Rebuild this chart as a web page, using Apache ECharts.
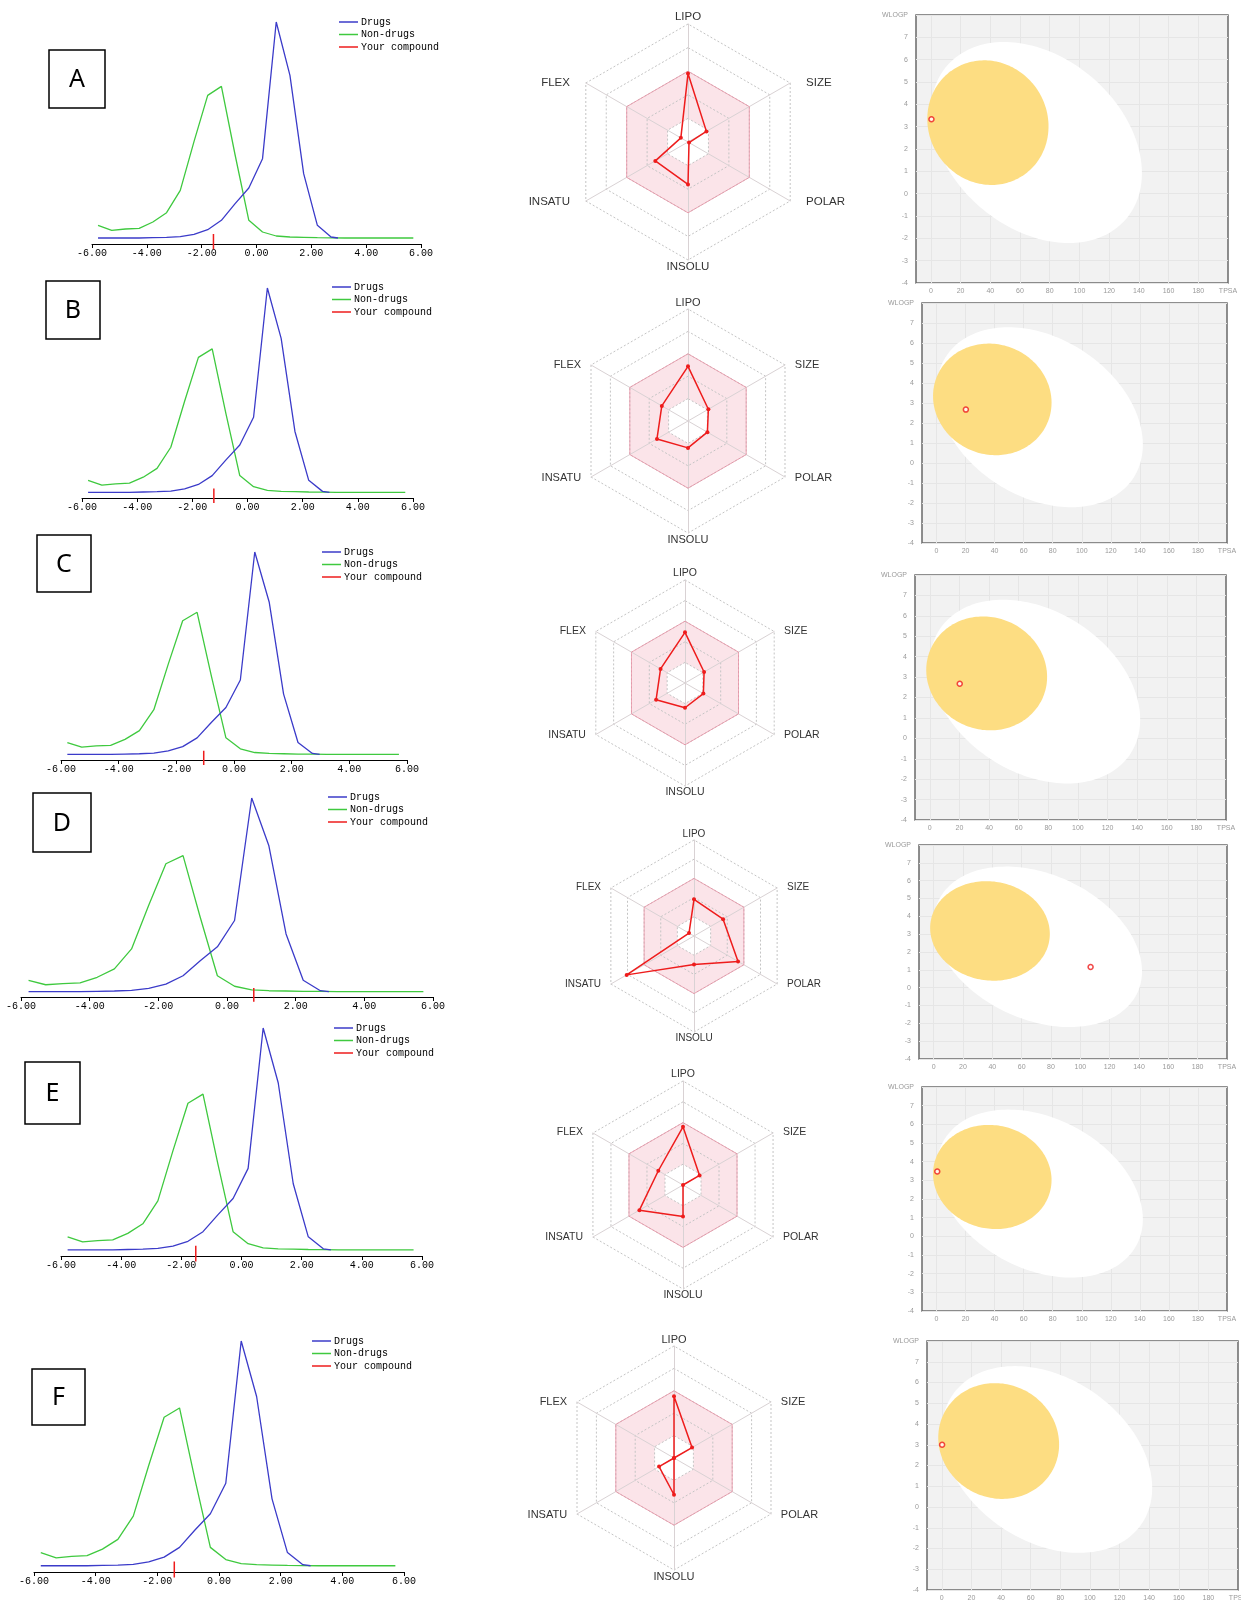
<!DOCTYPE html>
<html>
<head>
<meta charset="utf-8">
<script src="https://cdn.jsdelivr.net/npm/echarts@6/dist/echarts.min.js"></script>
<style>
  html, body { margin: 0; padding: 0; background: #ffffff; }
  #chart { width: 1241px; height: 1600px; }
</style>
</head>
<body>
<div id="chart"></div>
<script>
// ---- Drug-likeness model score distributions (reference sets, same in every panel) ----
const drugBins    = [-5.78, -5.28, -4.78, -4.28, -3.78, -3.28, -2.78, -2.28, -1.78, -1.28, -0.78, -0.28, 0.22, 0.72, 1.22, 1.72, 2.22, 2.72, 2.97];
const drugFreq    = [0, 0, 0, 0, 0.05, 0.1, 0.2, 0.55, 1.25, 2.65, 5.15, 7.5, 11.9, 32.4, 24.4, 9.65, 1.9, 0.15, 0];
const nonDrugBins = [-5.78, -5.28, -4.78, -4.28, -3.78, -3.28, -2.78, -2.28, -1.78, -1.28, -0.78, -0.28, 0.22, 0.72, 1.22, 1.72, 2.22, 2.72, 3.22, 3.72, 4.22, 4.72, 5.22, 5.72];
const nonDrugFreq = [1.9, 1.15, 1.35, 1.45, 2.4, 3.8, 7.15, 14.45, 21.4, 22.75, 12.45, 2.65, 0.9, 0.3, 0.15, 0.1, 0.05, 0.03, 0, 0, 0, 0, 0, 0];

// ---- Compounds ----
const panelLetters   = ['A', 'B', 'C', 'D', 'E', 'F'];
const compoundScores = [-1.57, -1.22, -1.05, 0.78, -1.52, -1.45];

// Bioavailability radar, values in axis order below
const radarAxes = ['LIPO', 'SIZE', 'POLAR', 'INSOLU', 'INSATU', 'FLEX'];
const radarA = [2.90, 0.90, 0.05, 1.80, 1.60, 0.35];
const radarB = [2.44, 1.05, 1.00, 1.20, 1.60, 1.35];
const radarC = [2.46, 1.07, 1.03, 1.20, 1.62, 1.37];
const radarD = [1.91, 1.75, 2.65, 1.48, 4.05, 0.30];
const radarE = [2.80, 0.92, 0.00, 1.52, 2.42, 1.37];
const radarF = [2.76, 0.93, 0.00, 1.64, 0.77, 0.00];
const radarValues = [radarA, radarB, radarC, radarD, radarE, radarF];
const radarOptimal = [3, 3, 3, 3, 3, 3];

// BOILED-Egg: TPSA / WLOGP of each compound
const tpsaValues  = [0.4, 20.2, 20.2, 107.0, 0.5, 0.2];
const wlogpValues = [3.33, 2.67, 2.67, 1.16, 3.47, 3.00];
const tpsaTicks   = [0, 20, 40, 60, 80, 100, 120, 140, 160, 180];
// egg regions: x = cx + a*cos(t), y = cy + b*sin(t + phi)
const eggWhite = { cx: 71.05, cy: 2.29, a: 71.0, b: 4.5, phi: -0.31 };
const eggYolk  = { cx: 38.4, cy: 3.18, a: 40.8, b: 2.79, phi: -0.06 };

// ---- Page layout (pixels) ----
// radar: [cx, cy, radius, label font size, label side padding]
const layout = [
  { box: [49, 50, 56, 58],   dist: [92, 22, 329, 222],   legend: [339, 16],   radar: [688, 142, 118, 11.5, 15], egg: [916, 15, 312, 268] },
  { box: [46, 281, 54, 58],  dist: [82, 288, 331, 210],  legend: [332, 281],  radar: [688, 421, 112, 11, 9],    egg: [922, 303, 305, 240] },
  { box: [37, 535, 54, 57],  dist: [61, 552, 346, 208],  legend: [322, 546],  radar: [685, 683, 103, 10.5, 9],  egg: [915, 575, 311, 245] },
  { box: [33, 793, 58, 59],  dist: [21, 798, 412, 199],  legend: [328, 791],  radar: [694, 936, 96, 10, 9],     egg: [919, 845, 308, 214] },
  { box: [25, 1062, 55, 62], dist: [61, 1028, 361, 228], legend: [334, 1022], radar: [683, 1185, 104, 10.5, 9], egg: [922, 1087, 305, 224] },
  { box: [32, 1369, 53, 56], dist: [34, 1341, 370, 231], legend: [312, 1335], radar: [674, 1458, 112, 11, 9],   egg: [927, 1341, 311, 249] }
];

const COLOR_DRUG = '#3b3bc9';
const COLOR_NONDRUG = '#3fc93f';
const COLOR_RED = '#ee1c1c';
const MONO = '"Liberation Mono", "DejaVu Sans Mono", monospace';
const SANS = '"Liberation Sans", Arial, sans-serif';

const pairs = (xs, ys) => xs.map((x, i) => [x, ys[i]]);
const peak = Math.max(...drugFreq);
const radarOrder = ['LIPO', 'FLEX', 'INSATU', 'INSOLU', 'POLAR', 'SIZE'];   // counter-clockwise from top

function ellipseSeries(axisIndex, e, color) {
  return {
    type: 'custom', xAxisIndex: axisIndex, yAxisIndex: axisIndex, silent: true, z: 2,
    data: [[e.cx, e.cy]],
    renderItem: function (params, api) {
      const pts = [];
      for (let k = 0; k < 180; k++) {
        const t = k / 180 * 2 * Math.PI;
        pts.push(api.coord([e.cx + e.a * Math.cos(t), e.cy + e.b * Math.sin(t + e.phi)]));
      }
      return { type: 'polygon', shape: { points: pts }, style: { fill: color } };
    }
  };
}

const option = {
  animation: false,
  backgroundColor: '#ffffff',
  grid: [], xAxis: [], yAxis: [], radar: [], legend: [], series: [], graphic: []
};

panelLetters.forEach(function (letter, i) {
  const L = layout[i];

  // panel letter
  option.graphic.push({
    type: 'rect', shape: { x: L.box[0], y: L.box[1], width: L.box[2], height: L.box[3] },
    style: { fill: '#fff', stroke: '#000', lineWidth: 1.5 }
  });
  option.graphic.push({
    type: 'text', x: L.box[0] + L.box[2] / 2, y: L.box[1] + L.box[3] / 2 + 1,
    style: { text: letter, font: '25px "Noto Sans", "Open Sans", sans-serif', fill: '#000', textAlign: 'center', textVerticalAlign: 'middle' }
  });

  // ---- score distribution ----
  const gd = option.grid.length;
  option.grid.push({ left: L.dist[0], top: L.dist[1], width: L.dist[2], height: L.dist[3], outerBoundsMode: 'none' });
  option.xAxis.push({
    gridIndex: gd, type: 'value', min: -6, max: 6, interval: 2,
    axisLine: { onZero: false, lineStyle: { color: '#000', width: 1 } },
    axisTick: { length: 4, lineStyle: { color: '#000' } },
    axisLabel: { formatter: v => v.toFixed(2), fontFamily: MONO, fontSize: 10, color: '#000', margin: 4 },
    splitLine: { show: false }
  });
  option.yAxis.push({ gridIndex: gd, type: 'value', min: -0.9, max: peak, show: false });
  option.series.push({
    name: 'Drugs', type: 'line', xAxisIndex: gd, yAxisIndex: gd, data: pairs(drugBins, drugFreq),
    symbol: 'none', lineStyle: { color: COLOR_DRUG, width: 1.3 }, itemStyle: { color: COLOR_DRUG }, z: 3
  });
  option.series.push({
    name: 'Non-drugs', type: 'line', xAxisIndex: gd, yAxisIndex: gd, data: pairs(nonDrugBins, nonDrugFreq),
    symbol: 'none', lineStyle: { color: COLOR_NONDRUG, width: 1.3 }, itemStyle: { color: COLOR_NONDRUG }, z: 2
  });
  option.series.push({
    name: 'Your compound', type: 'line', xAxisIndex: gd, yAxisIndex: gd, clip: false,
    data: [[compoundScores[i], 0.6], [compoundScores[i], -1.7]],
    symbol: 'none', lineStyle: { color: COLOR_RED, width: 1.5 }, itemStyle: { color: COLOR_RED }, z: 4
  });
  option.legend.push({
    left: L.legend[0], top: L.legend[1], orient: 'vertical', selectedMode: false,
    data: ['Drugs', 'Non-drugs', 'Your compound'],
    icon: 'rect', itemWidth: 19, itemHeight: 1.5, itemGap: 0.5, padding: 0,
    textStyle: { fontFamily: MONO, fontSize: 10, color: '#000', lineHeight: 12, padding: [0, 0, 0, -2] }
  });

  // ---- bioavailability radar ----
  option.radar.push({
    center: [L.radar[0], L.radar[1]], radius: L.radar[2], startAngle: 90, splitNumber: 5,
    shape: 'polygon',
    indicator: radarOrder.map(n => ({ name: n, min: 0, max: 5 })),
    axisName: { color: '#333', fontFamily: SANS, fontSize: L.radar[3], padding: [0, L.radar[4], 0, L.radar[4]] },
    nameGap: 1,
    axisLine: { lineStyle: { color: '#d9d2d4', width: 1 } },
    axisTick: { show: false }, axisLabel: { show: false },
    splitLine: { lineStyle: { color: '#c4c4c4', type: [2, 2], width: 1 } },
    splitArea: { show: true, areaStyle: { color: ['rgba(0,0,0,0)', 'rgba(240,150,170,0.26)', 'rgba(240,150,170,0.26)', 'rgba(0,0,0,0)', 'rgba(0,0,0,0)'] } }
  });
  const ri = option.radar.length - 1;
  const byName = n => radarValues[i][radarAxes.indexOf(n)];
  option.series.push({
    name: 'optimal range ' + letter, type: 'radar', radarIndex: ri, silent: true, symbol: 'none',
    lineStyle: { color: 'rgba(232,140,160,0.75)', width: 1 },
    data: [{ value: radarOrder.map(n => radarOptimal[radarAxes.indexOf(n)]) }], z: 2
  });
  option.series.push({
    name: 'compound ' + letter, type: 'radar', radarIndex: ri, symbol: 'circle', symbolSize: 4,
    lineStyle: { color: COLOR_RED, width: 1.5 }, itemStyle: { color: COLOR_RED },
    data: [{ value: radarOrder.map(byName) }], z: 3
  });

  // ---- BOILED-Egg ----
  const ge = option.grid.length;
  option.grid.push({
    left: L.egg[0], top: L.egg[1], width: L.egg[2], height: L.egg[3], outerBoundsMode: 'none',
    show: true, backgroundColor: '#f2f2f2', borderColor: '#6a6a6a', borderWidth: 1.5
  });
  option.xAxis.push({
    gridIndex: ge, type: 'value', min: -10, max: 200,
    axisLine: { show: false },
    axisTick: { show: false, customValues: tpsaTicks },
    axisLabel: { customValues: tpsaTicks.concat([200]), formatter: v => (v === 200 ? 'TPSA' : String(v)), fontFamily: SANS, fontSize: 7, color: '#9a9a9a', margin: 5 },
    splitLine: { show: true, lineStyle: { color: '#e6e6e6', width: 1 } }
  });
  option.yAxis.push({
    gridIndex: ge, type: 'value', min: -4, max: 8, interval: 1,
    axisLine: { show: false }, axisTick: { show: false },
    axisLabel: { formatter: v => (v === 8 ? 'WLOGP' : String(v)), fontFamily: SANS, fontSize: 7, color: '#9a9a9a', margin: 8 },
    splitLine: { show: true, lineStyle: { color: '#e6e6e6', width: 1 } }
  });
  option.series.push(ellipseSeries(ge, eggWhite, '#ffffff'));
  option.series.push(ellipseSeries(ge, eggYolk, 'rgb(253,221,130)'));
  option.series.push({
    name: 'molecule ' + letter, type: 'scatter', xAxisIndex: ge, yAxisIndex: ge,
    data: [[tpsaValues[i], wlogpValues[i]]], symbol: 'circle', symbolSize: 5,
    itemStyle: { color: '#ffffff', borderColor: COLOR_RED, borderWidth: 1.5 }, z: 5
  });
});

const chart = echarts.init(document.getElementById('chart'), null, { renderer: 'canvas', width: 1241, height: 1600 });
chart.setOption(option);
</script>
</body>
</html>
